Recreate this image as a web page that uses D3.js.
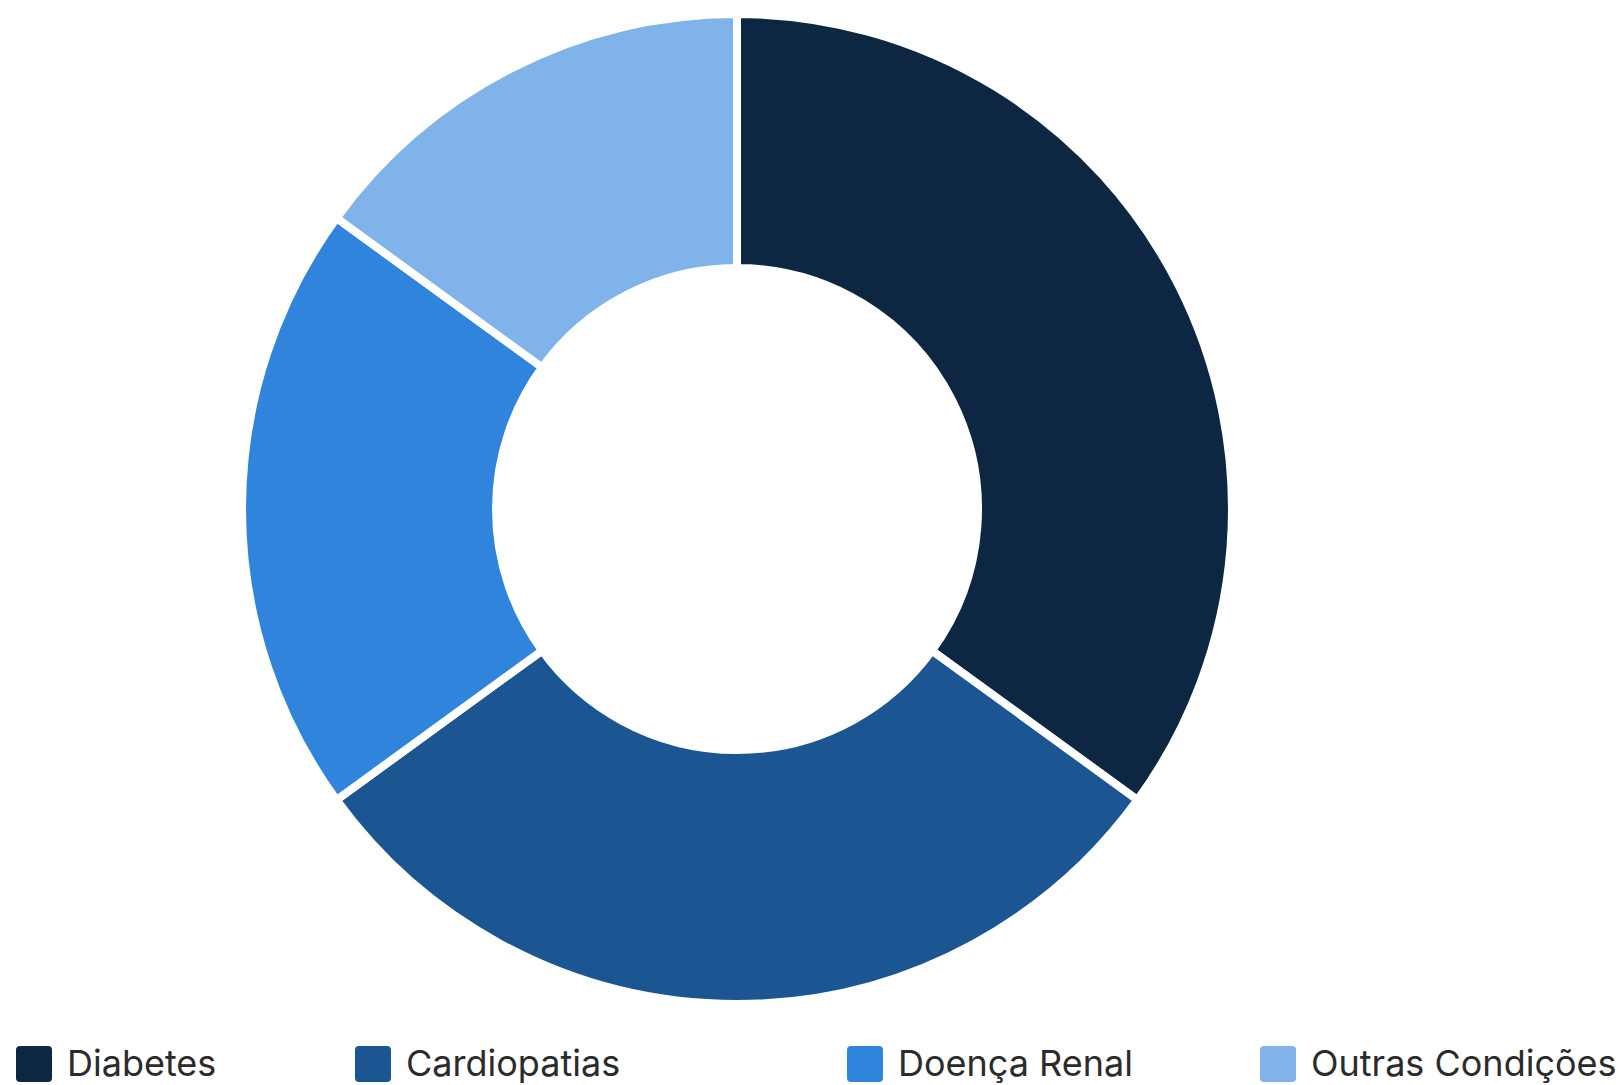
<!DOCTYPE html>
<html>
<head>
<meta charset="utf-8">
<script src="https://cdn.jsdelivr.net/npm/d3@7"></script>
<style>
  html, body { margin: 0; padding: 0; background: #ffffff; }
  svg { display: block; }
  .legend text { font-family: Inter, "Noto Sans", sans-serif; fill: #2b2b2b; }
</style>
</head>
<body>
<div id="chart"></div>
<script>
// data
const categories = ["Diabetes", "Cardiopatias", "Doença Renal", "Outras Condições"];
const values = [35, 30, 20, 15];
const colors = ["#0d2742", "#1b5693", "#3084dc", "#80b3e9"];

// layout
const width = 1621, height = 1085;
const cx = 737, cy = 509;
const outerR = 495, innerR = 241;
const legendX = [16, 355, 847, 1260];

const svg = d3.select("#chart").append("svg")
  .attr("width", width)
  .attr("height", height);

const pie = d3.pie().sort(null).value(d => d.value);
const arc = d3.arc().innerRadius(innerR).outerRadius(outerR);

const data = categories.map((c, i) => ({ name: c, value: values[i], color: colors[i] }));

const g = svg.append("g")
  .attr("transform", `translate(${cx},${cy})`);

g.selectAll("path")
  .data(pie(data))
  .join("path")
  .attr("d", arc)
  .attr("fill", d => d.data.color)
  .attr("stroke", "#ffffff")
  .attr("stroke-width", 8)
  .attr("stroke-linejoin", "round");

// legend
const legend = svg.append("g").attr("class", "legend");
const item = legend.selectAll("g")
  .data(data)
  .join("g")
  .attr("transform", (d, i) => `translate(${legendX[i]},1046)`);

item.append("rect")
  .attr("width", 36)
  .attr("height", 36)
  .attr("rx", 4)
  .attr("fill", d => d.color);

item.append("text")
  .attr("x", 51)
  .attr("y", 30)
  .style("font-size", "36px")
  .text(d => d.name);
</script>
</body>
</html>
